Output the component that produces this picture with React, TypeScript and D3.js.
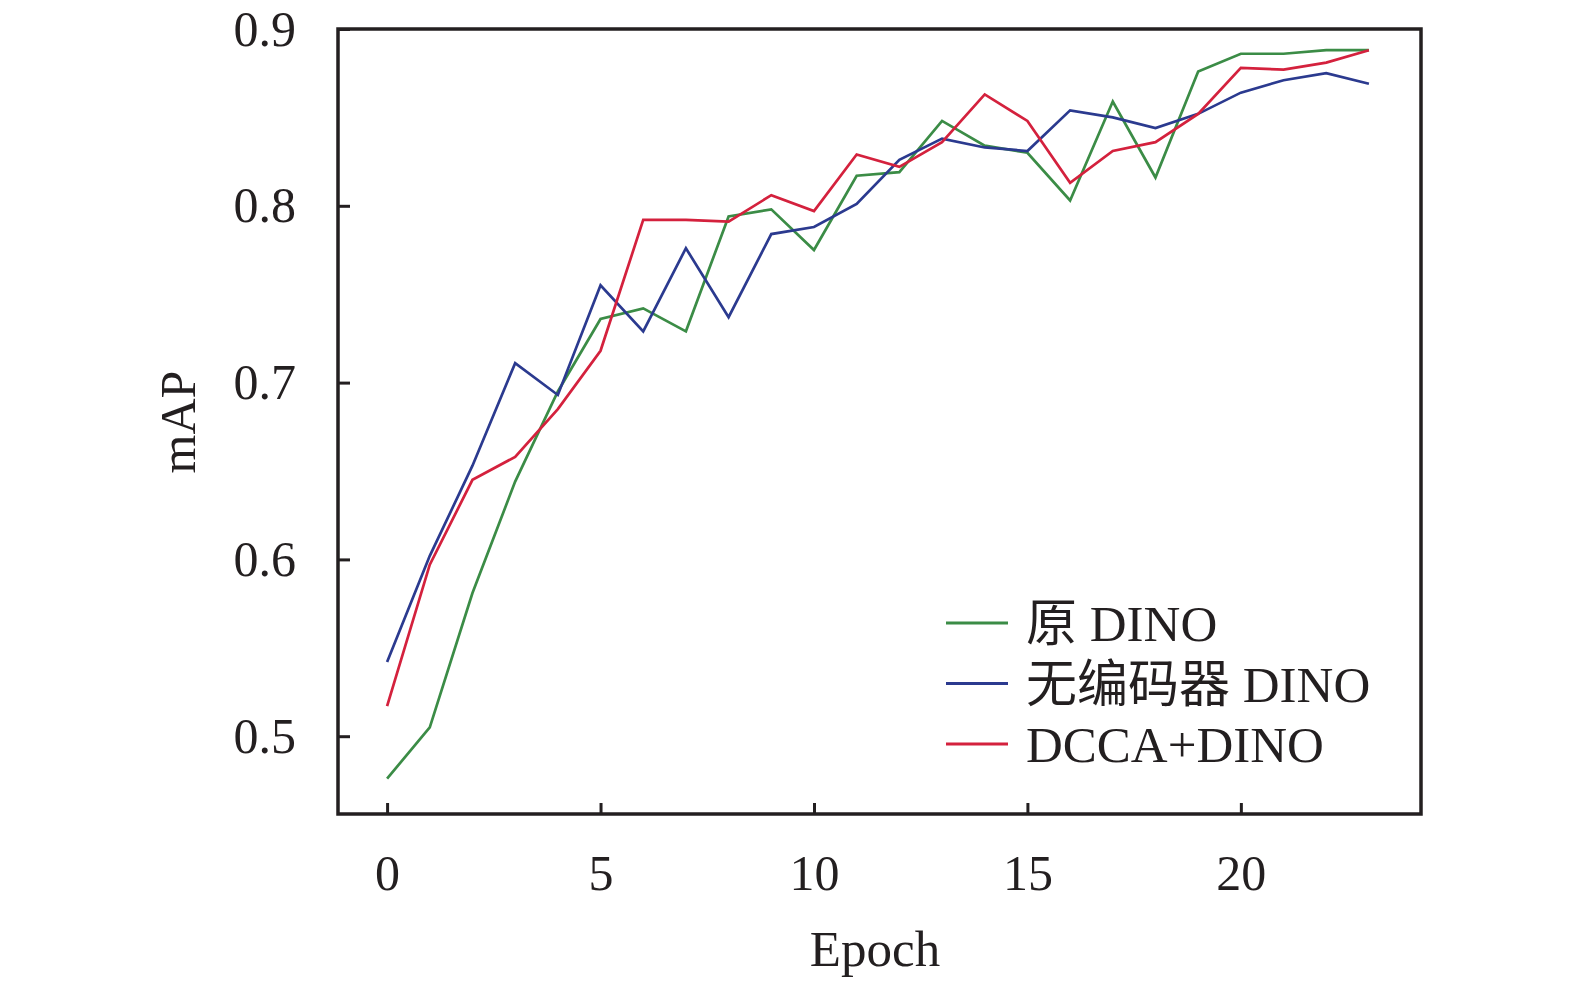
import * as React from 'react';
import * as d3 from 'd3';

const epochs: number[] = [0, 1, 2, 3, 4, 5, 6, 7, 8, 9, 10, 11, 12, 13, 14, 15, 16, 17, 18, 19, 20, 21, 22, 23];

const dinoValues: number[] = [0.476, 0.505, 0.581, 0.644, 0.695, 0.736, 0.742, 0.729, 0.794, 0.798, 0.775, 0.817,
    0.819, 0.848, 0.834, 0.830, 0.803, 0.859, 0.816, 0.876, 0.886, 0.886, 0.888, 0.888];

const noEncoderValues: number[] = [0.542, 0.602, 0.653, 0.711, 0.693, 0.755, 0.729, 0.776, 0.737, 0.784, 0.788, 0.801,
    0.826, 0.838, 0.833, 0.831, 0.854, 0.850, 0.844, 0.852, 0.864, 0.871, 0.875, 0.869];

const dccaValues: number[] = [0.517, 0.597, 0.645, 0.658, 0.685, 0.718, 0.792, 0.792, 0.791, 0.806, 0.797, 0.829,
    0.822, 0.836, 0.863, 0.848, 0.813, 0.831, 0.836, 0.852, 0.878, 0.877, 0.881, 0.888];

const seriesNames: string[] = ['原 DINO', '无编码器 DINO', 'DCCA+DINO'];
const seriesColors: string[] = ['#3b8c46', '#2b3a8f', '#d4213d'];

const xTicks: number[] = [0, 5, 10, 15, 20];
const yTicks: number[] = [0.5, 0.6, 0.7, 0.8, 0.9];

type Point = {
    epoch: number,
    value: number,
}

const FONT = "'Liberation Serif', 'Times New Roman', 'Noto Sans CJK SC', serif";

class LineChart extends React.Component<{}, {}> {
    private chartRef: React.RefObject<SVGSVGElement> = React.createRef();
    private dim = {
        width: 1575,
        height: 985,
        left: 338,
        right: 1421,
        top: 29,
        bottom: 814,
    }

    componentDidMount() {
        const svg = d3.select(this.chartRef.current);
        const { left, right, top, bottom } = this.dim;

        // domain matches the plotted frame: 0 sits a bit in from the left edge
        const xScale = d3.scaleLinear().domain([-1.15, 24.22]).range([left, right]);
        const yScale = d3.scaleLinear().domain([0.456, 0.9]).range([bottom, top]);

        const xAxis = d3.axisBottom(xScale)
            .tickValues(xTicks)
            .tickSize(-11)
            .tickPadding(40)
            .tickFormat(d3.format('d'));
        svg.append('g')
            .attr('transform', `translate(0, ${bottom})`)
            .call(xAxis)
            .call(g => g.select('.domain').remove())
            .call(g => g.selectAll('.tick line').attr('stroke', '#231f20').attr('stroke-width', 3))
            .call(g => g.selectAll('.tick text')
                .attr('fill', '#231f20')
                .style('font-family', FONT)
                .style('font-size', '50px'));

        const yAxis = d3.axisLeft(yScale)
            .tickValues(yTicks)
            .tickSize(-12)
            .tickPadding(42)
            .tickFormat(d3.format('.1f'));
        svg.append('g')
            .attr('transform', `translate(${left}, 0)`)
            .call(yAxis)
            .call(g => g.select('.domain').remove())
            .call(g => g.selectAll('.tick line').attr('stroke', '#231f20').attr('stroke-width', 3))
            .call(g => g.selectAll('.tick text')
                .attr('fill', '#231f20')
                .style('font-family', FONT)
                .style('font-size', '50px'));

        svg.append('rect')
            .attr('x', left)
            .attr('y', top)
            .attr('width', right - left)
            .attr('height', bottom - top)
            .attr('fill', 'none')
            .attr('stroke', '#231f20')
            .attr('stroke-width', 3.5);

        const line = d3.line<Point>()
            .x(d => xScale(d.epoch))
            .y(d => yScale(d.value));

        const allSeries = [dinoValues, noEncoderValues, dccaValues];
        allSeries.forEach((values, i) => {
            const pts: Point[] = epochs.map((e, j) => ({ epoch: e, value: values[j] }));
            svg.append('path')
                .datum(pts)
                .attr('fill', 'none')
                .attr('stroke', seriesColors[i])
                .attr('stroke-width', 2.7)
                .attr('stroke-linejoin', 'miter')
                .attr('d', line(pts)!);
        });

        // legend
        const legend = svg.append('g').attr('transform', 'translate(946, 623)');
        seriesNames.forEach((name, i) => {
            const row = legend.append('g').attr('transform', `translate(0, ${i * 60.5})`);
            row.append('line')
                .attr('x1', 0).attr('x2', 62)
                .attr('y1', 0).attr('y2', 0)
                .attr('stroke', seriesColors[i])
                .attr('stroke-width', 3);
            row.append('text')
                .attr('x', 80)
                .attr('y', 18)
                .attr('fill', '#231f20')
                .style('font-family', FONT)
                .style('font-size', '51px')
                .text(name);
        });

        svg.append('text')
            .attr('x', 875)
            .attr('y', 966)
            .attr('text-anchor', 'middle')
            .attr('fill', '#231f20')
            .style('font-family', FONT)
            .style('font-size', '51px')
            .text('Epoch');

        svg.append('text')
            .attr('transform', 'translate(195, 422) rotate(-90)')
            .attr('text-anchor', 'middle')
            .attr('fill', '#231f20')
            .style('font-family', FONT)
            .style('font-size', '50px')
            .text('mAP');
    }

    render() {
        return (
            <div style={{ position: 'absolute', left: 0, top: 0 }}>
                <svg ref={this.chartRef} width={this.dim.width} height={this.dim.height}
                     style={{ display: 'block', background: '#fff' }}>
                </svg>
            </div>
        );
    }
}

export default function App() {
    return <LineChart />;
}
